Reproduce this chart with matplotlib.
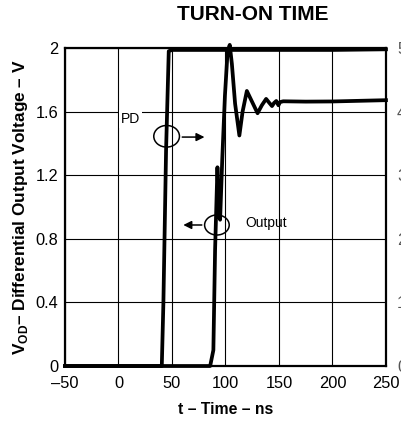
import matplotlib
matplotlib.use("Agg")
import matplotlib.pyplot as plt
from matplotlib.patches import Ellipse

plt.rcParams["font.family"] = ["Liberation Sans", "DejaVu Sans"]
plt.rcParams["mathtext.fontset"] = "custom"
plt.rcParams["mathtext.rm"] = "Liberation Sans"
plt.rcParams["mathtext.bf"] = "Liberation Sans:bold"

# PD input (right axis, 0-5 V)
t_pd = [-50, 40.5, 42, 44.5, 47, 50, 100, 150, 200, 250]
v_pd = [0, 0, 1.0, 3.4, 4.95, 4.97, 4.97, 4.97, 4.97, 4.98]

# differential output (left axis)
t_out = [-50, 0, 50, 85.7, 88.7, 90.3, 92.5, 93.8, 95, 97, 99.5, 102, 104,
         106, 109, 113, 116, 120, 125, 130, 134, 138, 141, 143.5, 145.5,
         147.5, 149.5, 151, 154, 175, 200, 225, 250]
v_out = [0, 0, 0, 0, 0.1, 0.73, 1.25, 0.95, 0.92, 1.3, 1.7, 1.98, 2.02,
         1.9, 1.65, 1.45, 1.6, 1.73, 1.66, 1.59, 1.64, 1.68, 1.655, 1.635, 1.655,
         1.667, 1.64, 1.66, 1.665, 1.663, 1.664, 1.668, 1.672]

x_ticks = [-50, 0, 50, 100, 150, 200, 250]
y_ticks = [0, 0.4, 0.8, 1.2, 1.6, 2]
y_tick_labels = ["0", "0.4", "0.8", "1.2", "1.6", "2"]
y2_ticks = [0, 1, 2, 3, 4, 5]

fig = plt.figure(figsize=(4.01, 4.21), dpi=100)
ax = fig.add_axes([0.162, 0.1306, 0.8005, 0.7553])

ax.set_xlim(-50, 250)
ax.set_ylim(0, 2)
ax.set_xticks(x_ticks)
ax.set_xticklabels(["\u2013" + str(-v) if v < 0 else str(v) for v in x_ticks])
ax.set_yticks(y_ticks)
ax.set_yticklabels(y_tick_labels)
ax.tick_params(length=0, labelsize=11.8)
ax.tick_params(axis="x", pad=7)
ax.tick_params(axis="y", pad=5)
ax.grid(True, color="black", linewidth=0.8)
ax.set_axisbelow(True)
for s in ax.spines.values():
    s.set_linewidth(1.6)

ax.plot(t_out, v_out, color="black", linewidth=2.7, clip_on=False, zorder=3)

ax2 = ax.twinx()
ax2.set_ylim(0, 5)
ax2.set_yticks(y2_ticks)
ax2.tick_params(length=0, labelsize=11.8, pad=8, labelcolor="#555555")
for s in ax2.spines.values():
    s.set_visible(False)
ax2.plot(t_pd, v_pd, color="black", linewidth=2.7, clip_on=False, zorder=3)

# annotations
ax.text(11, 1.555, "PD", fontsize=10, ha="center", va="center", zorder=5,
        bbox=dict(facecolor="white", edgecolor="none", pad=1.5))
ax.add_patch(Ellipse((45, 1.445), 24, 0.136, fill=False, edgecolor="black",
                     linewidth=1.1, zorder=6))
ax.annotate("", xy=(83, 1.44), xytext=(57, 1.44), zorder=6,
            arrowprops=dict(arrowstyle="-|>", color="black", lw=1.1,
                            mutation_scale=12))
ax.add_patch(Ellipse((92, 0.887), 23, 0.126, fill=False, edgecolor="black",
                     linewidth=1.1, zorder=6))
ax.annotate("", xy=(58, 0.887), xytext=(80.5, 0.887), zorder=6,
            arrowprops=dict(arrowstyle="-|>", color="black", lw=1.1,
                            mutation_scale=12))
ax.text(119, 0.9, "Output", fontsize=10, ha="left", va="center")

fig.text(0.63, 0.966, "TURN-ON TIME", fontsize=15, fontweight="bold",
         ha="center", va="center")
ax.set_xlabel("t \u2013 Time \u2013 ns", fontsize=11.3, fontweight="bold",
              labelpad=8)
ax.set_ylabel(r"V$_{\mathbf{OD}}$" + "\u2013 Differential Output Voltage \u2013 V",
              fontsize=12.4, fontweight="bold", labelpad=4)

fig.savefig("out.png", dpi=100)
